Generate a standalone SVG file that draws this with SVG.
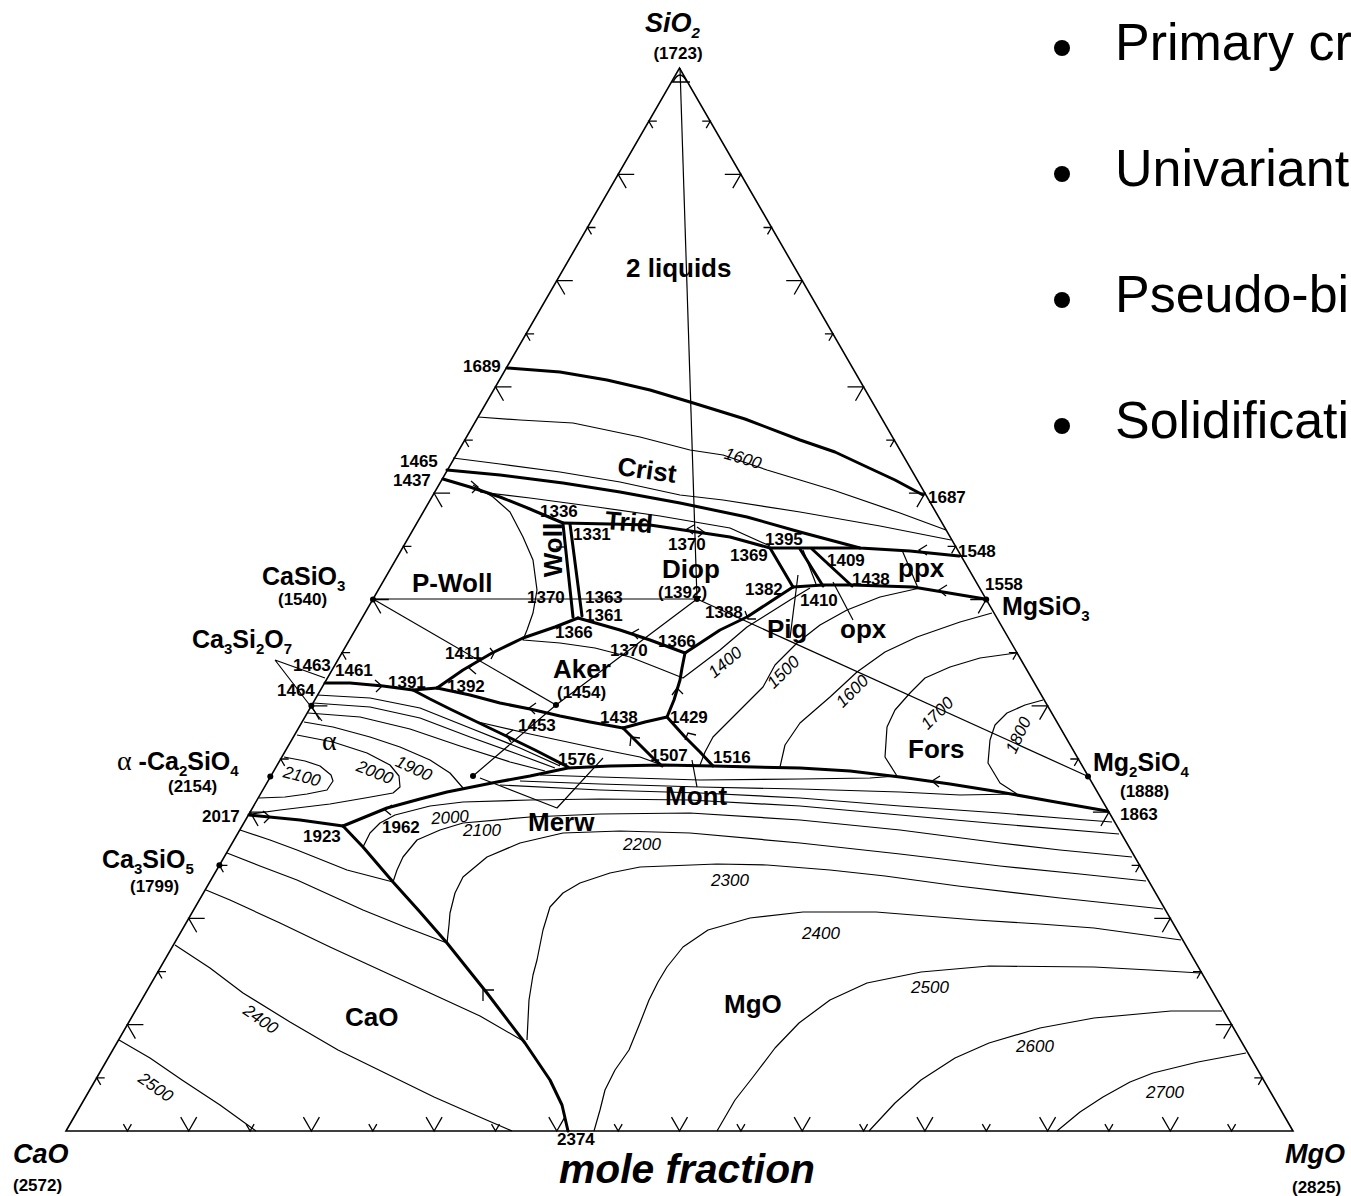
<svg xmlns="http://www.w3.org/2000/svg" xmlns:xlink="http://www.w3.org/1999/xlink" width="1351" height="1196" viewBox="0 0 1351 1196">
<style>
.ed{fill:none;stroke:#000;stroke-width:1.6}
.th{fill:none;stroke:#000;stroke-width:3;stroke-linejoin:round;stroke-linecap:round}
.tn{fill:none;stroke:#000;stroke-width:1.2;stroke-linejoin:round}
.tk{fill:none;stroke:#000;stroke-width:1.3}
.dot{fill:#000}
text{fill:#000}
.n{font:bold 17px 'Liberation Sans',Arial,sans-serif}
.ph{font:bold 26px 'Liberation Sans',Arial,sans-serif}
.cm{font:bold 25px 'Liberation Sans',Arial,sans-serif}
.sb{font-size:15px}
.it{font:italic 17px 'Liberation Sans',Arial,sans-serif}
.ax{font:italic bold 27px 'Liberation Sans',Arial,sans-serif}
.bl{font:52px 'Liberation Sans',Arial,sans-serif}
</style>
<defs>
<path id="lL" d="M16,0H0L8,13.86"/>
<path id="lS" d="M8,0H0L4,6.93"/>
<path id="rL" d="M-16,0H0L-8,13.86"/>
<path id="rS" d="M-8,0H0L-4,6.93"/>
<path id="bL" d="M-8,-13.86L0,0L8,-13.86"/>
<path id="bS" d="M-4,-6.93L0,0L4,-6.93"/>
</defs>
<rect width="1351" height="1196" fill="#fff"/>

<g id="frame">
<path class="ed" d="M66,1131 L679.5,68 L1293,1131 Z"/>
<path class="tk" d="M673,82 Q680,68 687,82 M671,82 H690"/>
</g>

<g id="ticks" fill="none" stroke="#000" stroke-width="1.3">
<use xlink:href="#lS" x="96.7" y="1077.9"/><use xlink:href="#lL" x="127.4" y="1024.7"/><use xlink:href="#lS" x="158" y="971.6"/><use xlink:href="#lL" x="188.7" y="918.4"/><use xlink:href="#lS" x="219.4" y="865.3"/><use xlink:href="#lL" x="250.1" y="812.1"/><use xlink:href="#lS" x="280.7" y="759"/><use xlink:href="#lL" x="311.4" y="705.8"/><use xlink:href="#lS" x="342.1" y="652.7"/><use xlink:href="#lL" x="372.8" y="599.5"/><use xlink:href="#lS" x="403.4" y="546.4"/><use xlink:href="#lL" x="434.1" y="493.2"/><use xlink:href="#lS" x="464.8" y="440.1"/><use xlink:href="#lL" x="495.5" y="386.9"/><use xlink:href="#lS" x="526.1" y="333.8"/><use xlink:href="#lL" x="556.8" y="280.6"/><use xlink:href="#lS" x="587.5" y="227.5"/><use xlink:href="#lL" x="618.2" y="174.3"/><use xlink:href="#lS" x="648.8" y="121.2"/>
<use xlink:href="#rS" x="1262.3" y="1077.9"/><use xlink:href="#rL" x="1231.7" y="1024.7"/><use xlink:href="#rS" x="1201" y="971.6"/><use xlink:href="#rL" x="1170.3" y="918.4"/><use xlink:href="#rS" x="1139.6" y="865.3"/><use xlink:href="#rL" x="1108.9" y="812.1"/><use xlink:href="#rS" x="1078.3" y="759"/><use xlink:href="#rL" x="1047.6" y="705.8"/><use xlink:href="#rS" x="1016.9" y="652.7"/><use xlink:href="#rL" x="986.2" y="599.5"/><use xlink:href="#rS" x="955.6" y="546.4"/><use xlink:href="#rL" x="924.9" y="493.2"/><use xlink:href="#rS" x="894.2" y="440.1"/><use xlink:href="#rL" x="863.5" y="386.9"/><use xlink:href="#rS" x="832.9" y="333.8"/><use xlink:href="#rL" x="802.2" y="280.6"/><use xlink:href="#rS" x="771.5" y="227.5"/><use xlink:href="#rL" x="740.8" y="174.3"/><use xlink:href="#rS" x="710.2" y="121.2"/>
<use xlink:href="#bS" x="127.4" y="1131"/><use xlink:href="#bL" x="188.7" y="1131"/><use xlink:href="#bS" x="250.1" y="1131"/><use xlink:href="#bL" x="311.4" y="1131"/><use xlink:href="#bS" x="372.8" y="1131"/><use xlink:href="#bL" x="434.1" y="1131"/><use xlink:href="#bS" x="495.5" y="1131"/><use xlink:href="#bL" x="556.8" y="1131"/><use xlink:href="#bS" x="618.2" y="1131"/><use xlink:href="#bL" x="679.5" y="1131"/><use xlink:href="#bS" x="740.9" y="1131"/><use xlink:href="#bL" x="802.2" y="1131"/><use xlink:href="#bS" x="863.6" y="1131"/><use xlink:href="#bL" x="924.9" y="1131"/><use xlink:href="#bS" x="986.3" y="1131"/><use xlink:href="#bL" x="1047.6" y="1131"/><use xlink:href="#bS" x="1108.9" y="1131"/><use xlink:href="#bL" x="1170.3" y="1131"/><use xlink:href="#bS" x="1231.6" y="1131"/>
</g>

<g id="joins">
<path class="tn" d="M680,68 L697,599"/>
<path class="tn" d="M373,599 L697,599"/>
<path class="tn" d="M373,599 L556,705"/>
<path class="tn" d="M697,599 L556,705 L473,776"/>
<path class="tn" d="M697,599 L1087,776"/>
<path class="tn" d="M275,660 L325,678 M275,660 L322,721"/>
<path class="tn" d="M480,778 L557,808 L603,758"/>
<path class="tn" d="M692,760 L697,787"/>
<path class="tn" d="M798,575 L790,638"/>
<path class="tn" d="M833,582 L853,620"/>
<path class="tn" d="M902,550 L918,588"/>
<path class="tn" d="M803,550 L816,584"/>
</g>

<g id="isotherms">
<path class="tn" d="M478,417 L520,420 573,423 640,437 690,450 723,455 767,470 833,490 900,513 946,530"/>
<path class="tn" d="M453,458 L500,464 560,472 620,482 680,495 723,500 800,512 880,526 951,540"/>
<path class="tn" d="M480,492 L530,498 597,507 660,516 730,528 770,546"/>
<path class="tn" d="M473,485 L493,497 510,512 523,537 533,560 537,590 533,613 527,630 523,640 560,643 595,648 630,657 663,670 683,678 720,650 747,627 763,617 790,600 810,588"/>
<path class="tn" d="M920,588 L880,597 847,610 820,625 797,643 775,665 763,687 740,710 713,737 705,752 700,765"/>
<path class="tn" d="M478,722 L530,734 600,749 640,757 662,765"/>
<path class="tn" d="M992,613 L960,622 917,637 885,652 857,672 830,697 800,723 785,745 780,767"/>
<path class="tn" d="M1016,653 L980,658 950,667 925,678 910,693 895,710 887,727 885,757 897,776"/>
<path class="tn" d="M1043,700 L1025,705 1007,713 995,725 990,740 988,763 1000,783 1017,794"/>
<path class="tn" d="M317,695 L370,698 420,708 470,728 520,748 560,766"/>
<path class="tn" d="M313,703 L370,707 420,718 470,737 520,755 555,768"/>
<path class="tn" d="M308,713 L360,717 410,729 460,746 510,762 545,771"/>
<path class="tn" d="M304,722 L333,727 370,737 400,747 430,760 450,773 463,788"/>
<path class="tn" d="M297,735 L333,742 367,753 390,765 399,776 400,787 393,793 365,798 330,804 280,810 251,814"/>
<path class="tn" d="M284,757 L305,761 320,766 331,775 333,781 327,790 307,794 285,797 259,798"/>
<path class="tn" d="M240,830 L270,840 297,850 347,870 393,882"/>
<path class="tn" d="M227,853 L260,866 297,880 330,895 363,910 405,927 447,943"/>
<path class="tn" d="M206,890 L230,900 280,923 330,947 380,970 430,993 480,1016 525,1042"/>
<path class="tn" d="M175,945 L210,968 243,993 290,1022 338,1050 385,1073 434,1097 475,1115 512,1131"/>
<path class="tn" d="M119,1040 L150,1058 182,1080 220,1105 256,1131"/>
<path class="tn" d="M540,775 L600,777 700,780 800,779 870,778 897,776"/>
<path class="tn" d="M520,781 L600,784 700,787 800,789 900,792 960,795 1017,794"/>
<path class="tn" d="M500,785 L600,790 700,793 800,798 900,806 1000,813 1060,818 1112,822"/>
<path class="tn" d="M363,847 L370,833 380,823 395,815 430,806 463,802 530,800 600,799 690,800 800,806 900,815 1000,824 1119,834"/>
<path class="tn" d="M393,882 L397,870 403,857 417,840 440,830 463,823 530,817 600,814 690,813 800,820 900,830 1000,843 1060,850 1132,857"/>
<path class="tn" d="M447,943 L449,925 450,913 455,893 463,877 487,857 520,843 563,833 620,831 690,833 800,843 900,854 1000,866 1080,874 1146,881"/>
<path class="tn" d="M527,1040 L529,1000 533,975 537,960 543,930 550,907 563,893 580,883 610,873 640,867 717,864 767,865 830,870 885,876 958,886 1060,898 1163,909"/>
<path class="tn" d="M594,1131 L600,1110 605,1090 615,1070 629,1050 640,1023 649,1000 658,982 667,967 683,947 708,930 750,918 803,912 876,912 976,920 1040,924 1094,928 1181,940"/>
<path class="tn" d="M717,1131 L735,1100 753,1077 775,1048 799,1023 830,1000 867,983 921,972 989,966 1094,967 1150,970 1200,973"/>
<path class="tn" d="M869,1131 L895,1103 921,1080 955,1058 989,1043 1040,1028 1094,1018 1171,1011 1222,1011"/>
<path class="tn" d="M1057,1131 L1080,1112 1103,1097 1130,1082 1153,1073 1198,1062 1246,1053"/>
</g>

<g id="boundaries">
<path class="th" d="M507,368 L560,372 607,380 650,390 690,402 745,419 800,440 835,452 867,467 895,480 923,495"/>
<path class="th" d="M447,470 L500,475 563,483 620,492 680,503 747,517 800,532 860,548 910,551 959,556"/>
<path class="th" d="M443,479 L470,487 500,497 530,509 563,523"/>
<path class="th" d="M563,523 L610,524 650,525 690,531 730,537 770,548 L860,548"/>
<path class="th" d="M563,524 L573,617 M570,524 L582,616"/>
<path class="th" d="M578,618 L620,630 650,640 685,653"/>
<path class="th" d="M578,618 L555,627 523,638 492,653 463,670 437,688"/>
<path class="th" d="M685,653 L720,630 747,617 770,602 793,587"/>
<path class="th" d="M685,653 L682,668 680,680 674,700 667,717 L645,722 623,728"/>
<path class="th" d="M623,728 L640,745 652,757 662,766"/>
<path class="th" d="M667,717 L685,737 700,752 713,766"/>
<path class="th" d="M437,688 L470,695 500,703 530,709 560,716 590,722 623,728"/>
<path class="th" d="M325,683 L350,683 383,686 413,690 L437,688"/>
<path class="th" d="M413,690 L430,699 450,709 500,733 535,750 568,767"/>
<path class="th" d="M343,826 L365,817 387,808 420,799 447,792 497,782 530,776 568,768 610,766 663,765 713,766 800,768 850,771 900,777 950,784 1000,792 1050,801 1107,811"/>
<path class="th" d="M249,815 L300,820 343,826"/>
<path class="th" d="M343,826 L363,847 393,882 420,912 447,943 487,993 525,1043 550,1080 562,1105 568,1131"/>
<path class="th" d="M793,587 L823,585 852,585 913,587 985,599"/>
<path class="th" d="M770,548 L793,587"/>
<path class="th" d="M800,549 L823,586"/>
<path class="th" d="M812,549 L852,586"/>
</g>

<g id="arrows">
<path class="tk" d="M927,545 L919,550 L927,555"/>
<path class="tk" d="M947,585 L939,590 L946,596"/>
<path class="tk" d="M694,525 L687,529 L693,534 M697,527 L704,532 L698,537"/>
<path class="tk" d="M375,680 L382,686 L376,692"/>
<path class="tk" d="M940,776 L932,781 L939,787"/>
<path class="tk" d="M483,1001 L483,990 L494,990"/>
<path class="tk" d="M672,695 L677,688 L683,694"/>
<path class="tk" d="M630,746 L631,737 L640,738"/>
<path class="tk" d="M685,740 L688,733 L696,735"/>
<path class="tk" d="M476,662 L469,668 L476,674 M490,648 L494,653 L491,659"/>
<path class="tk" d="M536,703 L529,708 L535,714"/>
<path class="tk" d="M513,730 L506,735 L511,742"/>
<path class="tk" d="M745,611 L748,619 L756,619"/>
<path class="tk" d="M263,811 L270,817 L264,823"/>
<path class="tk" d="M392,805 L385,810 L391,815"/>
<path class="tk" d="M471,481 L478,487 L472,493"/>
<path class="tk" d="M556,547 L566,547"/>
<path class="tk" d="M639,629 L632,633 L638,639"/>
</g>

<g id="points">
<circle class="dot" cx="373" cy="599.5" r="3"/>
<circle class="dot" cx="311.4" cy="705.8" r="3"/>
<circle class="dot" cx="270.3" cy="776.5" r="3"/>
<circle class="dot" cx="219.4" cy="865.3" r="3"/>
<circle class="dot" cx="697" cy="599" r="3"/>
<circle class="dot" cx="556" cy="705" r="3"/>
<circle class="dot" cx="473" cy="776" r="3"/>
<circle class="dot" cx="986.2" cy="599.5" r="3"/>
<circle class="dot" cx="1088" cy="776.5" r="3"/>
</g>

<g id="point-labels" class="n">
<text x="463" y="372">1689</text>
<text x="400" y="467">1465</text>
<text x="393" y="486">1437</text>
<text x="540" y="517">1336</text>
<text x="573" y="540">1331</text>
<text x="668" y="550">1370</text>
<text x="765" y="545">1395</text>
<text x="730" y="561">1369</text>
<text x="827" y="566">1409</text>
<text x="852" y="585">1438</text>
<text x="745" y="595">1382</text>
<text x="800" y="606">1410</text>
<text x="705" y="618">1388</text>
<text x="928" y="503">1687</text>
<text x="958" y="557">1548</text>
<text x="985" y="590">1558</text>
<text x="527" y="603">1370</text>
<text x="585" y="603">1363</text>
<text x="585" y="621">1361</text>
<text x="555" y="638">1366</text>
<text x="658" y="647">1366</text>
<text x="610" y="656">1370</text>
<text x="445" y="659">1411</text>
<text x="447" y="692">1392</text>
<text x="518" y="731">1453</text>
<text x="600" y="723">1438</text>
<text x="670" y="723">1429</text>
<text x="558" y="765">1576</text>
<text x="650" y="761">1507</text>
<text x="713" y="763">1516</text>
<text x="293" y="671">1463</text>
<text x="335" y="676">1461</text>
<text x="388" y="688">1391</text>
<text x="277" y="696">1464</text>
<text x="202" y="822">2017</text>
<text x="303" y="842">1923</text>
<text x="382" y="833">1962</text>
<text x="1120" y="820">1863</text>
<text x="557" y="1145">2374</text>
<text x="678" y="59" text-anchor="middle">(1723)</text>
<text x="278" y="605">(1540)</text>
<text x="658" y="598">(1392)</text>
<text x="557" y="698">(1454)</text>
<text x="168" y="792">(2154)</text>
<text x="130" y="892">(1799)</text>
<text x="1120" y="797">(1888)</text>
<text x="13" y="1191">(2572)</text>
<text x="1292" y="1193">(2825)</text>
</g>

<g id="phase-labels" class="ph">
<text x="626" y="277">2 liquids</text>
<text x="647" y="479" text-anchor="middle" transform="rotate(8 647 470)">Crist</text>
<text x="629" y="531" text-anchor="middle" transform="rotate(5 629 522)">Trid</text>
<text x="562" y="550" text-anchor="middle" transform="rotate(-90 562 550)">Woll</text>
<text x="412" y="592">P-Woll</text>
<text x="662" y="578">Diop</text>
<text x="898" y="577">ppx</text>
<text x="767" y="638">Pig</text>
<text x="840" y="638">opx</text>
<text x="553" y="678">Aker</text>
<text x="665" y="805">Mont</text>
<text x="528" y="831">Merw</text>
<text x="908" y="758">Fors</text>
<text x="345" y="1026">CaO</text>
<text x="724" y="1013">MgO</text>
</g>

<g id="compounds" class="cm">
<text x="262" y="585">CaSiO<tspan class="sb" dy="6">3</tspan></text>
<text x="192" y="648">Ca<tspan class="sb" dy="6">3</tspan><tspan dy="-6">Si</tspan><tspan class="sb" dy="6">2</tspan><tspan dy="-6">O</tspan><tspan class="sb" dy="6">7</tspan></text>
<text x="117" y="770"><tspan font-family="'Liberation Serif',serif" font-weight="normal" font-size="28">α</tspan> -Ca<tspan class="sb" dy="6">2</tspan><tspan dy="-6">SiO</tspan><tspan class="sb" dy="6">4</tspan></text>
<text x="102" y="868">Ca<tspan class="sb" dy="6">3</tspan><tspan dy="-6">SiO</tspan><tspan class="sb" dy="6">5</tspan></text>
<text x="1002" y="615">MgSiO<tspan class="sb" dy="6">3</tspan></text>
<text x="1093" y="771">Mg<tspan class="sb" dy="6">2</tspan><tspan dy="-6">SiO</tspan><tspan class="sb" dy="6">4</tspan></text>
<text x="322" y="750" font-family="'Liberation Serif',serif" font-weight="normal" font-size="28">α</text>
</g>

<g id="axis-labels" class="ax">
<text x="645" y="32">SiO<tspan class="sb" dy="6">2</tspan></text>
<text x="13" y="1163">CaO</text>
<text x="1285" y="1163">MgO</text>
<text x="559" y="1183" font-size="40" textLength="256" lengthAdjust="spacingAndGlyphs">mole fraction</text>
</g>

<g id="isotherm-labels" class="it">
<text x="743" y="464" text-anchor="middle" transform="rotate(17 743 458)">1600</text>
<text x="725" y="668" text-anchor="middle" transform="rotate(-40 725 662)">1400</text>
<text x="783" y="678" text-anchor="middle" transform="rotate(-45 783 672)">1500</text>
<text x="852" y="697" text-anchor="middle" transform="rotate(-45 852 691)">1600</text>
<text x="937" y="719" text-anchor="middle" transform="rotate(-45 937 713)">1700</text>
<text x="1018" y="741" text-anchor="middle" transform="rotate(-65 1018 735)">1800</text>
<text x="302" y="782" text-anchor="middle" transform="rotate(15 302 776)">2100</text>
<text x="375" y="778" text-anchor="middle" transform="rotate(22 375 772)">2000</text>
<text x="414" y="774" text-anchor="middle" transform="rotate(25 414 768)">1900</text>
<text x="450" y="823" text-anchor="middle" transform="rotate(-4 450 817)">2000</text>
<text x="482" y="836" text-anchor="middle">2100</text>
<text x="642" y="850" text-anchor="middle">2200</text>
<text x="730" y="886" text-anchor="middle">2300</text>
<text x="821" y="939" text-anchor="middle">2400</text>
<text x="930" y="993" text-anchor="middle">2500</text>
<text x="1035" y="1052" text-anchor="middle">2600</text>
<text x="1165" y="1098" text-anchor="middle">2700</text>
<text x="261" y="1025" text-anchor="middle" transform="rotate(35 261 1019)">2400</text>
<text x="156" y="1093" text-anchor="middle" transform="rotate(35 156 1087)">2500</text>
</g>

<g id="bullets" class="bl">
<circle cx="1062" cy="48" r="8"/>
<circle cx="1062" cy="174" r="8"/>
<circle cx="1062" cy="300" r="8"/>
<circle cx="1062" cy="426" r="8"/>
<text x="1115" y="60">Primary cr</text>
<text x="1115" y="186">Univariant</text>
<text x="1115" y="312">Pseudo-bi</text>
<text x="1115" y="438">Solidificati</text>
</g>
</svg>
